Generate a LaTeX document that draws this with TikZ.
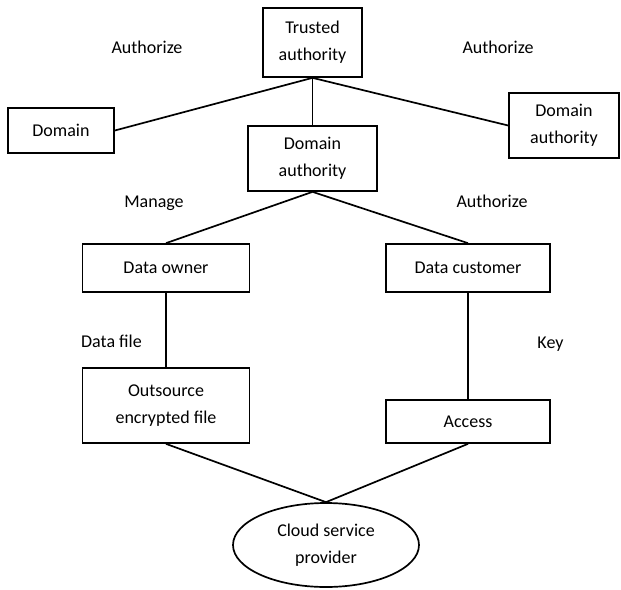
\documentclass[tikz,border=0pt]{standalone}
\usepackage{fontspec}
\setmainfont{Carlito}
\usetikzlibrary{shapes.geometric}
\tikzset{
  every node/.style={font=\fontsize{18}{27}\selectfont},
  box/.style={draw=black, line width=1.7pt, inner sep=0pt, align=center},
  oval/.style={draw=black, line width=1.7pt, ellipse, inner sep=0pt, align=center},
  lbl/.style={anchor=base, inner sep=0pt},
  link/.style={draw=black, line width=1.7pt}
}
\begin{document}
\begin{tikzpicture}[x=1pt,y=-1pt]
\useasboundingbox (0,0) rectangle (621,589);
\node[box, minimum width=99pt, minimum height=69pt] (ta) at (312.5,42.5) {Trusted\\authority};
\node[box, minimum width=106pt, minimum height=45pt] (dom) at (61,130.5) {Domain};
\node[box, minimum width=110pt, minimum height=65pt] (dar) at (564,125.5) {Domain\\authority};
\node[box, minimum width=129pt, minimum height=65pt] (dac) at (312.5,158.5) {Domain\\authority};
\node[box, minimum width=167pt, minimum height=48pt] (own) at (166,268) {Data owner};
\node[box, minimum width=164pt, minimum height=48pt] (cus) at (468,268) {Data customer};
\node[box, minimum width=167pt, minimum height=75pt] (out) at (166,405.5) {Outsource\\encrypted file};
\node[box, minimum width=164pt, minimum height=43pt] (acc) at (468,421.5) {Access};
\node[oval, minimum width=186pt, minimum height=84pt] (csp) at (326,545) {Cloud service\\provider};

\node[lbl] (l1) at (147,53) {Authorize};
\node[lbl] (l2) at (498,53) {Authorize};
\node[lbl] (l3) at (154,207) {Manage};
\node[lbl] (l4) at (492,207) {Authorize};
\node[lbl] (l5) at (111.5,347) {Data file};
\node[lbl] (l6) at (550.5,348) {Key};

\draw[link] (ta.south) -- (dac.north);
\draw[link] (ta.south) -- (dom.east);
\draw[link] (ta.south) -- (dar.west);
\draw[link] (dac.south) -- (own.north);
\draw[link] (dac.south) -- (cus.north);
\draw[link] (own.south) -- (out.north);
\draw[link] (cus.south) -- (acc.north);
\draw[link] (out.south) -- (csp.north);
\draw[link] (acc.south) -- (csp.north);
\end{tikzpicture}
\end{document}
